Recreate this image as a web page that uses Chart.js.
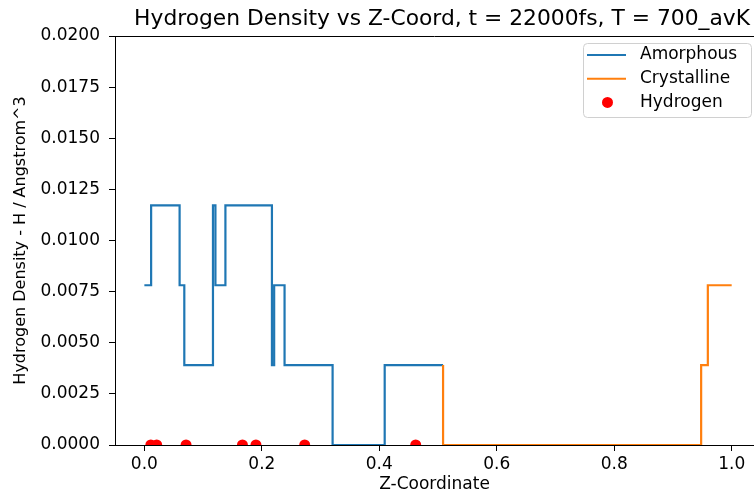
<!DOCTYPE html>
<html>
<head>
<meta charset="utf-8">
<script src="https://cdn.jsdelivr.net/npm/chart.js@4/dist/chart.umd.min.js"></script>
<style>
  html, body { margin: 0; padding: 0; background: #fff; overflow: hidden; }
  #wrap { width: 754px; height: 492px; position: relative; }
</style>
</head>
<body>
<div id="wrap"><canvas id="chart"></canvas></div>
<script>
// step breakpoints: each density value starts at the matching z
const amorphousZ = [0.000, 0.0115, 0.060, 0.068, 0.1168, 0.1210, 0.138, 0.2172, 0.2210, 0.2387, 0.3205, 0.4092, 0.5086];
const amorphousDensity = [0.0078125, 0.01171875, 0.0078125, 0.00390625, 0.01171875, 0.0078125, 0.01171875, 0.00390625, 0.0078125, 0.00390625, 0, 0.00390625, 0.00390625];

const crystallineZ = [0.5086, 0.5086, 0.948, 0.9594, 1.0];
const crystallineDensity = [0.00390625, 0, 0.00390625, 0.0078125, 0.0078125];

const hydrogenZ = [0.011, 0.021, 0.071, 0.167, 0.190, 0.273, 0.462];
const hydrogenDensity = [0, 0, 0, 0, 0, 0, 0];

const xTicks = [0.0, 0.2, 0.4, 0.6, 0.8, 1.0];
const yTicks = [0, 0.0025, 0.005, 0.0075, 0.01, 0.0125, 0.015, 0.0175, 0.02];

const chartTitle = 'Hydrogen Density vs Z-Coord, t = 22000fs, T = 700_avK';
const FONT = "'DejaVu Sans', sans-serif";

const toPoints = (xs, ys) => xs.map((x, i) => ({ x: x, y: ys[i] }));

const titleAndFrame = {
    id: 'titleAndFrame',
    afterDraw(chart) {
        const { ctx, chartArea } = chart;
        const xScale = chart.scales.x;
        ctx.save();
        // top spine
        ctx.strokeStyle = '#000';
        ctx.lineWidth = 1;
        ctx.beginPath();
        ctx.moveTo(chartArea.left, chartArea.top + 0.5);
        ctx.lineTo(chartArea.right, chartArea.top + 0.5);
        ctx.stroke();
        // title, roughly centred over the full (cropped) axes
        const cx = xScale.getPixelForValue(0.5) + 4;
        ctx.fillStyle = '#000';
        ctx.font = '21.8px ' + FONT;
        ctx.textAlign = 'center';
        ctx.textBaseline = 'middle';
        ctx.fillText(chartTitle, cx, 19);
        ctx.restore();
    }
};

const boxLegend = {
    id: 'boxLegend',
    afterDraw(chart) {
        const { ctx, chartArea } = chart;
        const w = 168, h = 74;
        const x0 = chartArea.right - 3 - w;
        const y0 = chartArea.top + 7;
        ctx.save();
        ctx.beginPath();
        ctx.roundRect(x0 + 0.5, y0 + 0.5, w, h, 4);
        ctx.fillStyle = 'rgba(255,255,255,0.8)';
        ctx.fill();
        ctx.strokeStyle = '#d0d0d0';
        ctx.lineWidth = 1;
        ctx.stroke();
        ctx.font = '17px ' + FONT;
        ctx.textBaseline = 'middle';
        ctx.textAlign = 'left';
        chart.data.datasets.forEach((ds, i) => {
            const y = y0 + 12 + i * 23.7;
            if (ds.type === 'scatter') {
                ctx.fillStyle = ds.backgroundColor;
                ctx.beginPath();
                ctx.arc(x0 + 24.5, y, 5.5, 0, Math.PI * 2);
                ctx.fill();
            } else {
                ctx.strokeStyle = ds.borderColor;
                ctx.lineWidth = 2;
                ctx.beginPath();
                ctx.moveTo(x0 + 4, y);
                ctx.lineTo(x0 + 43, y);
                ctx.stroke();
            }
            ctx.fillStyle = '#000';
            ctx.fillText(ds.label, x0 + 57, y);
        });
        ctx.restore();
    }
};

new Chart(document.getElementById('chart'), {
    type: 'line',
    data: {
        datasets: [
            {
                label: 'Amorphous',
                data: toPoints(amorphousZ, amorphousDensity),
                borderColor: '#1f77b4',
                borderWidth: 2.2,
                stepped: 'before',
                pointRadius: 0,
                fill: false,
                order: 2
            },
            {
                label: 'Crystalline',
                data: toPoints(crystallineZ, crystallineDensity),
                borderColor: '#ff7f0e',
                borderWidth: 2.2,
                stepped: 'before',
                pointRadius: 0,
                fill: false,
                order: 1
            },
            {
                type: 'scatter',
                label: 'Hydrogen',
                data: toPoints(hydrogenZ, hydrogenDensity),
                backgroundColor: '#ff0000',
                borderColor: '#ff0000',
                pointRadius: 5.5,
                borderWidth: 0,
                clip: 0,
                order: 0
            }
        ]
    },
    options: {
        responsive: true,
        maintainAspectRatio: false,
        animation: false,
        layout: { autoPadding: false, padding: { top: 36, right: 0, left: 0, bottom: 0 } },
        plugins: {
            legend: { display: false },
            tooltip: { enabled: false },
            title: { display: false }
        },
        scales: {
            x: {
                type: 'linear',
                min: -0.05,
                max: 1.038,
                afterFit: (scale) => {
                    scale.height = 47;
                    scale.paddingLeft = 0;
                    scale.paddingRight = 0;
                },
                afterBuildTicks: (scale) => { scale.ticks = xTicks.map(v => ({ value: v })); },
                grid: { drawOnChartArea: false, drawTicks: true, tickLength: 6, tickColor: '#000', tickWidth: 1 },
                border: { display: true, color: '#000', width: 1 },
                ticks: {
                    color: '#000',
                    font: { family: FONT, size: 17 },
                    padding: 3,
                    maxRotation: 0,
                    callback: (v) => Number(v).toFixed(1)
                },
                title: {
                    display: true,
                    text: 'Z-Coordinate',
                    color: '#000',
                    font: { family: FONT, size: 17 },
                    padding: { top: 0, bottom: -3 }
                }
            },
            y: {
                type: 'linear',
                min: 0,
                max: 0.02,
                afterFit: (scale) => {
                    scale.width = 115;
                    scale.paddingTop = 0;
                    scale.paddingBottom = 0;
                },
                afterBuildTicks: (scale) => { scale.ticks = yTicks.map(v => ({ value: v })); },
                grid: { drawOnChartArea: false, drawTicks: true, tickLength: 6, tickColor: '#000', tickWidth: 1 },
                border: { display: true, color: '#000', width: 1 },
                ticks: {
                    color: '#000',
                    font: { family: FONT, size: 17 },
                    padding: 9,
                    callback: (v) => Number(v).toFixed(4)
                },
                title: {
                    display: true,
                    text: 'Hydrogen Density - H / Angstrom^3',
                    color: '#000',
                    font: { family: FONT, size: 16 },
                    padding: { top: 11, bottom: 0 }
                }
            }
        }
    },
    plugins: [titleAndFrame, boxLegend]
});
</script>
</body>
</html>
